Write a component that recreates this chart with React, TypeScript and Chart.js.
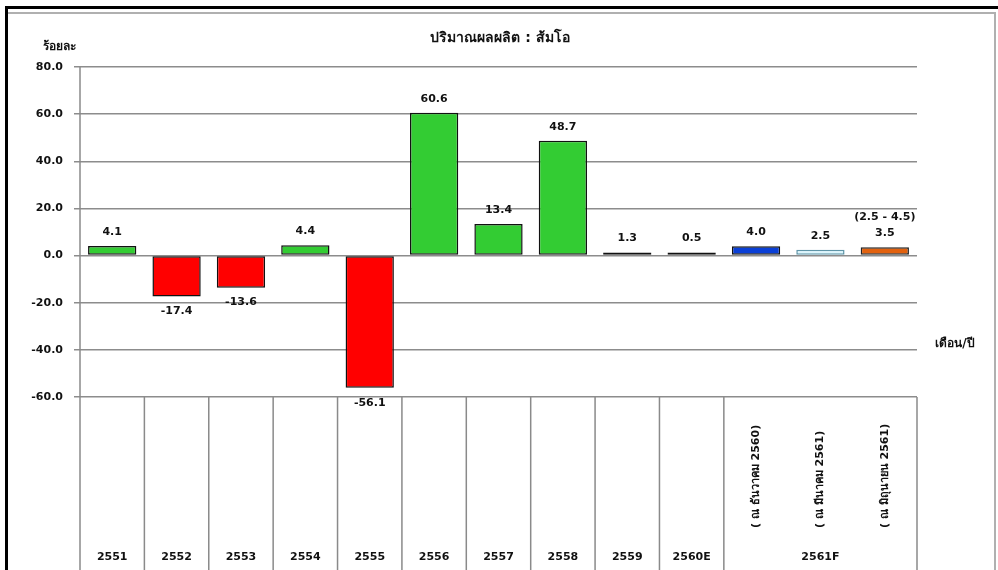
import React, { useEffect, useRef } from 'react';
import { Chart, registerables } from 'chart.js';

Chart.register(...registerables);

const categories = ['2551', '2552', '2553', '2554', '2555', '2556', '2557', '2558', '2559', '2560E', '2561F-ธ', '2561F-มี', '2561F-มิ'];
const bottomLabels = ['2551', '2552', '2553', '2554', '2555', '2556', '2557', '2558', '2559', '2560E', '', '', ''];
const rotatedLabels = ['', '', '', '', '', '', '', '', '', '', '( ณ ธันวาคม 2560)', '( ณ มีนาคม 2561)', '( ณ มิถุนายน 2561)'];
const groupLabel = '2561F';
const values = [4.1, -17.4, -13.6, 4.4, -56.1, 60.6, 13.4, 48.7, 1.3, 0.5, 4.0, 2.5, 3.5];
const rangeLabels = ['', '', '', '', '', '', '', '', '', '', '', '', '(2.5 - 4.5)'];
const barColors = ['#33cc33', '#ff0000', '#ff0000', '#33cc33', '#ff0000', '#33cc33', '#33cc33', '#33cc33', '#33cc33', '#1a1a1a', '#0a3fd6', '#dcf6fd', '#e2620f'];
const barBorders = ['#111', '#111', '#111', '#111', '#111', '#111', '#111', '#111', '#111', '#111', '#111', '#5f95a8', '#222'];
const title = 'ปริมาณผลผลิต : ส้มโอ';
const yTitle = 'ร้อยละ';
const xTitle = 'เดือน/ปี';
const yMin = -60;
const yMax = 80;
const yStep = 20;

const FONT = '"DejaVu Sans", sans-serif';

const decorPlugin = {
  id: 'decor',
  beforeDraw(chart: any) {
    const ctx = chart.ctx;
    const { width, height } = chart;
    ctx.save();
    ctx.fillStyle = '#ffffff';
    ctx.fillRect(0, 0, width, height);
    ctx.fillStyle = '#000';
    ctx.fillRect(5, 6, width - 5, 3);
    ctx.fillRect(5, 6, 3, height - 6);
    ctx.fillStyle = '#b0b0b0';
    ctx.fillRect(8, 12, 987, 2);
    ctx.fillRect(994, 12, 2, height - 12);
    ctx.restore();
  },
  afterDraw(chart: any) {
    const ctx = chart.ctx;
    const area = chart.chartArea;
    const xs = chart.scales.x;
    const n = categories.length;
    const w = (area.right - area.left) / n;
    ctx.save();
    ctx.strokeStyle = '#8a8a8a';
    ctx.lineWidth = 1.5;
    ctx.beginPath();
    ctx.moveTo(area.left, area.top);
    ctx.lineTo(area.left, chart.height);
    ctx.stroke();
    const boundaries: number[] = [];
    for (let i = 1; i <= 10; i++) boundaries.push(xs.getPixelForValue(i) - w / 2);
    boundaries.push(area.right);
    ctx.beginPath();
    boundaries.forEach((bx) => {
      ctx.moveTo(bx, area.bottom);
      ctx.lineTo(bx, chart.height);
    });
    ctx.stroke();
    ctx.fillStyle = '#111';
    ctx.font = 'bold 11px ' + FONT;
    ctx.textAlign = 'center';
    ctx.textBaseline = 'middle';
    bottomLabels.forEach((lab, i) => {
      if (!lab) return;
      ctx.fillText(lab, xs.getPixelForValue(i), 557);
    });
    const g0 = xs.getPixelForValue(10) - w / 2;
    ctx.fillText(groupLabel, (g0 + area.right) / 2, 557);
    rotatedLabels.forEach((lab, i) => {
      if (!lab) return;
      ctx.save();
      ctx.translate(xs.getPixelForValue(i), 528);
      ctx.rotate(-Math.PI / 2);
      ctx.textAlign = 'left';
      ctx.fillText(lab, 0, 0);
      ctx.restore();
    });
    const meta = chart.getDatasetMeta(0);
    meta.data.forEach((bar: any, i: number) => {
      const v = values[i];
      const txt = v.toFixed(1);
      if (v >= 0) {
        ctx.fillText(txt, bar.x, bar.y - 14);
        if (rangeLabels[i]) ctx.fillText(rangeLabels[i], bar.x, bar.y - 30);
      } else {
        ctx.fillText(txt, bar.x, bar.y + 15);
      }
    });
    ctx.font = 'bold 14px ' + FONT;
    ctx.fillText(title, 500, 38);
    ctx.font = 'bold 12px ' + FONT;
    ctx.fillText(yTitle, 59, 47);
    ctx.fillText(xTitle, 955, 344);
    ctx.restore();
  },
};

export default function App() {
  const ref = useRef<HTMLCanvasElement | null>(null);
  useEffect(() => {
    if (!ref.current) return;
    const chart = new Chart(ref.current, {
      type: 'bar',
      data: {
        labels: categories,
        datasets: [
          {
            data: values,
            backgroundColor: barColors,
            borderColor: barBorders,
            borderWidth: 1.5,
            borderSkipped: false,
            barPercentage: 0.75,
            categoryPercentage: 1,
            minBarLength: 3,
          },
        ],
      },
      options: {
        responsive: false,
        animation: false,
        layout: { padding: { left: 0, right: 81, top: 67, bottom: 173 } },
        plugins: { legend: { display: false }, tooltip: { enabled: false }, title: { display: false } },
        scales: {
          x: { display: false },
          y: {
            min: yMin,
            max: yMax,
            afterFit: (s: any) => {
              s.width = 80;
            },
            ticks: {
              stepSize: yStep,
              callback: (v: any) => Number(v).toFixed(1),
              font: { family: FONT, size: 11, weight: 'bold' },
              color: '#111',
              padding: 11,
            },
            grid: { color: '#8c8c8c', lineWidth: 1.5, tickLength: 6 },
            border: { display: false },
          },
        },
      },
      plugins: [decorPlugin],
    });
    return () => chart.destroy();
  }, []);
  return (
    <div style={{ position: 'absolute', left: 0, top: 0, width: 998, height: 570 }}>
      <canvas ref={ref} width={998} height={570} style={{ width: 998, height: 570, display: 'block' }} />
    </div>
  );
}
